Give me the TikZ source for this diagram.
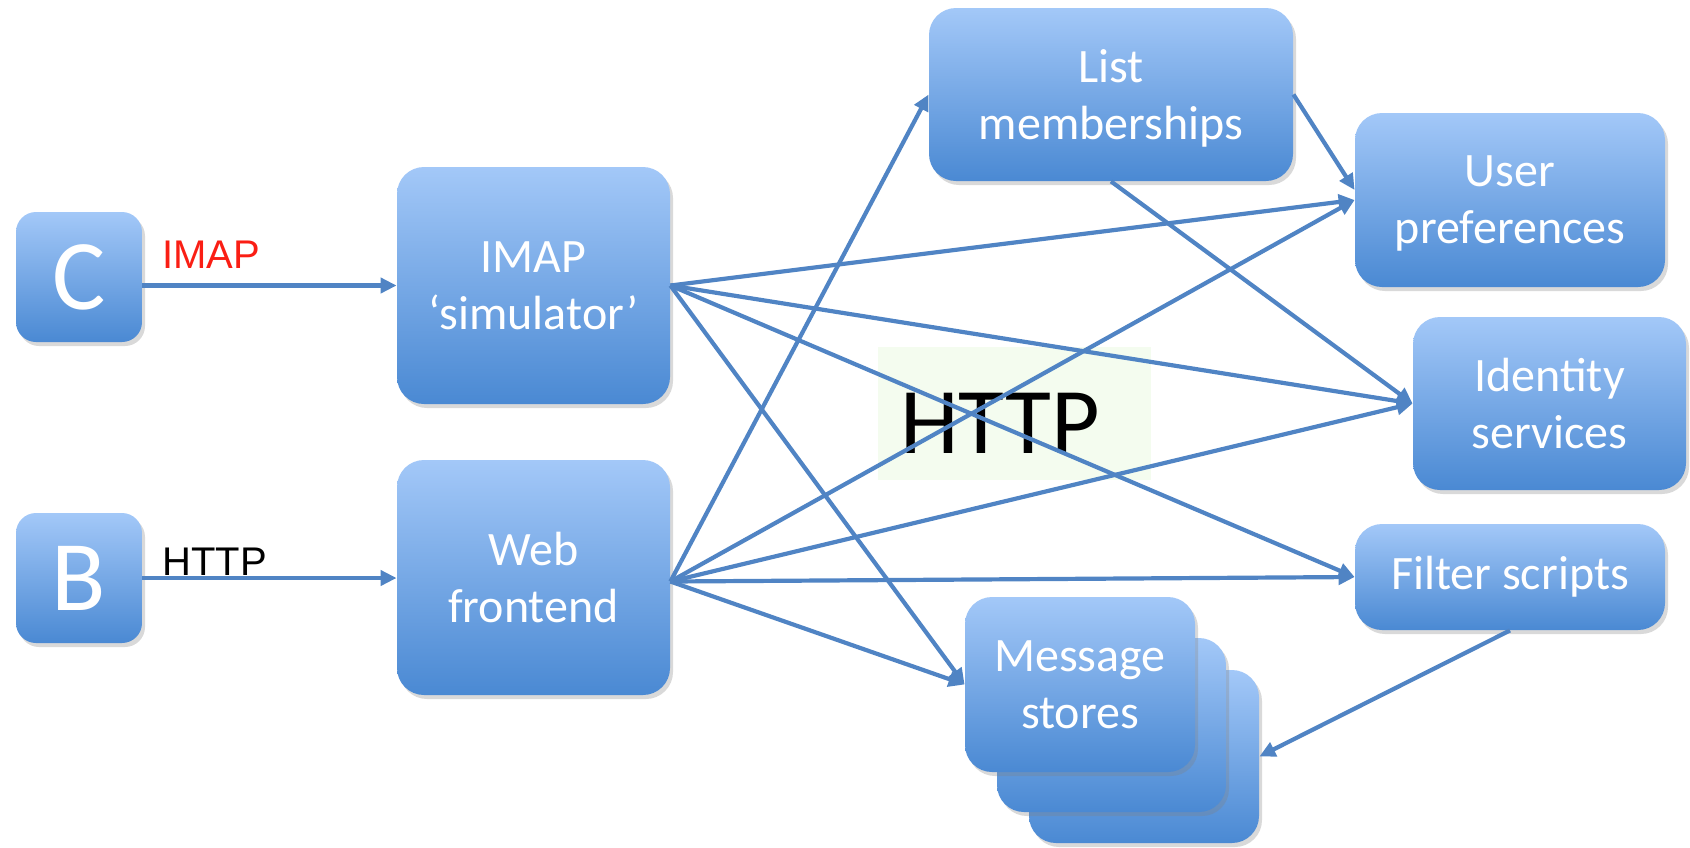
\documentclass[tikz,border=0pt]{standalone}
\usepackage{fontspec}
\setmainfont{Carlito}
\newfontfamily\arialfont{Liberation Sans}
\usetikzlibrary{arrows.meta,shadows,calc}
\definecolor{boxtop}{RGB}{163,200,248}
\definecolor{boxbot}{RGB}{74,137,211}
\definecolor{linkc}{RGB}{80,132,196}
\definecolor{httpbg}{RGB}{244,252,239}
\definecolor{labred}{RGB}{250,30,20}
\tikzset{
  box/.style={rounded corners=13.5pt, top color=boxtop, bottom color=boxbot,
    draw=none, text=white, align=center, inner sep=0pt,
    font=\fontsize{24}{28.5}\selectfont,
    drop shadow={opacity=0.3, shadow xshift=1.5pt, shadow yshift=-2pt}},
  twoline/.style={box, text depth=0pt},
  letterbox/.style={box, rounded corners=10pt, minimum width=63pt, minimum height=65pt,
    font=\fontsize{50}{50}\selectfont},
  link/.style={draw=linkc, line width=2.1pt, -{Triangle[length=8pt,width=7.5pt]}},
  smalllabel/.style={font=\arialfont\fontsize{20}{20}\selectfont, anchor=base west, inner sep=0pt},
}
\begin{document}
\begin{tikzpicture}[x=0.5pt,y=-0.5pt]
\useasboundingbox (0,0) rectangle (1690,847);
% HTTP background
\node[fill=httpbg, minimum width=136.5pt, minimum height=66.5pt, inner sep=0pt] (bg) at (1014.5,413.5) {};
\node[font=\fontsize{47}{47}\selectfont, anchor=base, inner sep=0pt] (http) at (1000,453) {HTTP};
% boxes
\node[letterbox] (c) at (79,277) {C};
\node[letterbox] (b) at (79,578) {B};
\node[twoline, minimum width=136.5pt, minimum height=118.5pt] (sim) at (533.5,285.5) {IMAP\\‘simulator’};
\node[twoline, minimum width=136.5pt, minimum height=117.5pt] (web) at (533.5,577.5) {Web\\frontend};
\node[twoline, minimum width=182pt, minimum height=86.5pt] (list) at (1111,94.5) {List\\memberships};
\node[twoline, minimum width=155pt, minimum height=87pt] (pref) at (1510,200) {User\\preferences};
\node[twoline, minimum width=136.5pt, minimum height=86.5pt] (ident) at (1549.5,403.5) {Identity\\services};
\node[box, minimum width=155pt, minimum height=53pt] (filt) at (1510,577) {Filter scripts};
\node[box, minimum width=115pt, minimum height=86.5pt] (ms3) at (1144,756.5) {};
\node[box, minimum width=114.5pt, minimum height=87pt] (ms2) at (1111.5,725) {};
\node[twoline, minimum width=115pt, minimum height=87.5pt] (ms1) at (1080,684.5) {Message\\stores};
% labels
\node[smalllabel, text=labred] (limap) at (162,268) {IMAP};
\node[smalllabel, text=black] (lhttp) at (162,575) {HTTP};
% connectors
\draw[link] (c.east |- sim.west) -- (sim.west);
\draw[link] (b.east) -- (b.east -| web.west);
\draw[link] (sim.east) -- (pref.west);
\draw[link] (sim.east) -- (ident.west);
\draw[link] (sim.east) -- (filt.west);
\draw[link] (sim.east) -- (ms1.west);
\draw[link] ($(web.east)+(0,4)$) -- (list.west);
\draw[link] ($(web.east)+(0,4)$) -- (pref.west);
\draw[link] ($(web.east)+(0,4)$) -- (ident.west);
\draw[link] ($(web.east)+(0,4)$) -- (filt.west);
\draw[link] ($(web.east)+(0,4)$) -- (ms1.west);
\draw[link] (list.east) -- ($(pref.west)+(0,-10)$);
\draw[link] (list.south) -- (ident.west);
\draw[link] (filt.south) -- (ms3.east);
\end{tikzpicture}
\end{document}
